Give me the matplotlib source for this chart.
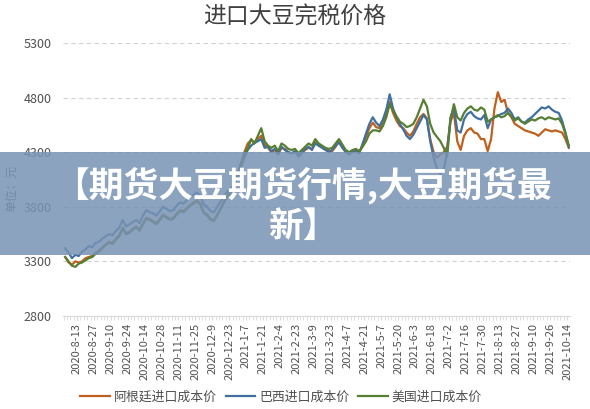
import numpy as np
import matplotlib
matplotlib.use("Agg")
from matplotlib import pyplot as plt
from matplotlib.patches import Rectangle
from matplotlib.ticker import MultipleLocator

plt.rcParams['font.family'] = ['Noto Sans CJK SC', 'DejaVu Sans']

title = '进口大豆完税价格'
banner = '【期货大豆期货行情,大豆期货最\n新】'
names = ['阿根廷进口成本价', '巴西进口成本价', '美国进口成本价']
colors = ['#c0601e', '#41709e', '#557f33']

# tick labels every 10 trading days
date_labels = ['2020-8-13', '2020-8-27', '2020-9-10', '2020-9-24', '2020-10-14',
               '2020-10-28', '2020-11-11', '2020-11-25', '2020-12-9', '2020-12-23',
               '2021-1-7', '2021-1-21', '2021-2-4', '2021-2-23', '2021-3-9',
               '2021-3-23', '2021-4-7', '2021-4-21', '2021-5-7', '2021-5-20',
               '2021-6-3', '2021-6-18', '2021-7-2', '2021-7-16', '2021-7-30',
               '2021-8-13', '2021-8-27', '2021-9-10', '2021-9-26', '2021-10-14']
label_step = 10

# samples every 2nd trading day, first one 7 days before 2020-8-13
first_day = -7
sample_step = 2

brazil = [3420, 3380, 3330, 3360, 3350, 3390, 3410, 3440, 3430, 3470,
          3480, 3510, 3530, 3550, 3540, 3580, 3610, 3680, 3620,
          3640, 3660, 3680, 3650, 3720, 3770, 3750, 3740, 3720, 3760,
          3800, 3780, 3760, 3770, 3810, 3840, 3830, 3860, 3890,
          3910, 3930, 3900, 3820, 3800, 3760, 3750, 3800, 3850, 3900,
          3940, 3970, 4000, 4080, 4160, 4250, 4320, 4360, 4385, 4400,
          4420, 4340, 4350, 4310, 4330, 4290, 4350, 4320, 4300,
          4290, 4310, 4260, 4290, 4330, 4350, 4320, 4380, 4360, 4340,
          4320, 4300, 4320, 4360, 4390, 4340, 4300, 4280, 4310, 4320,
          4290, 4380, 4470, 4560, 4620, 4570, 4540, 4600, 4690,
          4830, 4700, 4620, 4560, 4510, 4450, 4420, 4460, 4520, 4580,
          4640, 4600, 4400, 4250, 4150, 4100, 4140, 4300, 4620, 4700,
          4500, 4480, 4600, 4650, 4670, 4630, 4610, 4600, 4640,
          4520, 4600, 4620, 4630, 4650, 4660, 4700, 4660, 4600, 4620,
          4580, 4570, 4600, 4620, 4650, 4680, 4710, 4700, 4720, 4690,
          4670, 4660, 4590, 4480, 4350]

argentina = [3340, 3290, 3270, 3300, 3290, 3300, 3330, 3340, 3350, 3380,
             3400, 3430, 3460, 3480, 3470, 3510, 3540, 3610, 3560,
             3570, 3600, 3620, 3590, 3650, 3700, 3690, 3670, 3650, 3690,
             3730, 3710, 3690, 3700, 3740, 3770, 3760, 3790, 3820,
             3840, 3860, 3830, 3750, 3730, 3690, 3680, 3730, 3790, 3850,
             3900, 3950, 4000, 4100, 4200, 4300, 4380, 4410, 4390, 4420,
             4450, 4370, 4340, 4300, 4320, 4280, 4340, 4330, 4300,
             4290, 4300, 4270, 4300, 4320, 4340, 4330, 4390, 4360, 4350,
             4330, 4310, 4310, 4350, 4400, 4350, 4310, 4290, 4300, 4310,
             4300, 4360, 4440, 4520, 4570, 4530, 4520, 4560, 4640,
             4760, 4660, 4590, 4540, 4520, 4480, 4450, 4490, 4560, 4620,
             4650, 4610, 4420, 4300, 4250, 4280, 4300, 4350, 4580, 4660,
             4400, 4320, 4450, 4500, 4520, 4480, 4470, 4420, 4420,
             4310, 4420, 4700, 4850, 4760, 4780, 4660, 4620, 4560, 4540,
             4520, 4500, 4490, 4480, 4470, 4450, 4480, 4510, 4500, 4490,
             4500, 4490, 4480, 4420, 4340]

usa = [3340, 3300, 3260, 3250, 3280, 3290, 3310, 3330, 3340, 3370,
       3390, 3420, 3450, 3470, 3460, 3500, 3530, 3600, 3550,
       3560, 3590, 3610, 3580, 3640, 3690, 3680, 3660, 3640, 3680,
       3720, 3700, 3680, 3690, 3730, 3760, 3750, 3780, 3810,
       3830, 3850, 3820, 3740, 3720, 3680, 3670, 3720, 3780, 3840,
       3890, 3940, 3990, 4090, 4190, 4290, 4330, 4420, 4380, 4450,
       4520, 4400, 4360, 4340, 4360, 4310, 4380, 4360, 4330,
       4320, 4330, 4290, 4320, 4350, 4380, 4360, 4420, 4380, 4360,
       4340, 4330, 4340, 4380, 4420, 4370, 4320, 4300, 4320, 4330,
       4310, 4350, 4400, 4470, 4500, 4500, 4490, 4540, 4620,
       4740, 4680, 4630, 4580, 4560, 4530, 4540, 4560, 4620, 4700,
       4780, 4720, 4560, 4480, 4440, 4400, 4340, 4260, 4600, 4740,
       4620, 4590, 4660, 4700, 4720, 4690, 4680, 4710, 4690,
       4580, 4600, 4620, 4640, 4620, 4630, 4660, 4630, 4590, 4610,
       4580, 4560, 4580, 4600, 4590, 4610, 4620, 4600, 4620, 4610,
       4600, 4610, 4560, 4470, 4360]

y_ticks = [2800, 3300, 3800, 4300, 4800, 5300]

fig = plt.figure(figsize=(5.9, 4.09), dpi=100)
ax = fig.add_axes([63 / 590, 1 - 316 / 409, 507 / 590, 273 / 409])

for series, name, c in zip([argentina, brazil, usa], names, colors):
    days = first_day + sample_step * np.arange(len(series))
    ax.plot(days, series, color=c, lw=1.6, label=name)

ax.set_ylim(y_ticks[0], y_ticks[-1])
ax.set_yticks(y_ticks)
ax.set_xlim(-8.3, 291.7)
ax.set_xticks(np.arange(len(date_labels)) * label_step)
ax.set_xticklabels(date_labels, rotation=90, fontsize=8, color='#505050')
ax.xaxis.set_minor_locator(MultipleLocator(2))
ax.tick_params(axis='x', which='both', length=3, color='#d9d9d9', pad=2)
ax.tick_params(axis='y', length=0, labelsize=9, labelcolor='#505050', pad=8)
ax.grid(axis='y', color='#d0d0d0', ls=(0, (4, 3)), lw=0.8)
for s in ['top', 'right', 'left']:
    ax.spines[s].set_visible(False)
ax.spines['bottom'].set_color('#d9d9d9')
ax.set_axisbelow(True)

fig.text(0.5, 1 - 17 / 409, title, ha='center', va='center', fontsize=16.5, color='#404040')
fig.text(12 / 590, 1 - 188 / 409, '单位：元', rotation=90, ha='center', va='center',
         fontsize=8.5, color='#595959')

ax.legend(loc='center', bbox_to_anchor=(281 / 590, 1 - 397 / 409),
          bbox_transform=fig.transFigure, ncol=3, frameon=False,
          fontsize=9.3, handlelength=2.3, columnspacing=0.7, handletextpad=0.3,
          labelcolor='#505050')

fig.patches.append(Rectangle((0, 1 - 255 / 409), 1, 103 / 409, transform=fig.transFigure,
                             facecolor='#7893b4', alpha=0.85, edgecolor='none', zorder=5))
fig.text(303 / 590, 1 - 205 / 409, banner, ha='center', va='center', fontsize=25,
         fontweight='bold', color='white', linespacing=1.18, zorder=6)

fig.savefig('out.png', dpi=100)
